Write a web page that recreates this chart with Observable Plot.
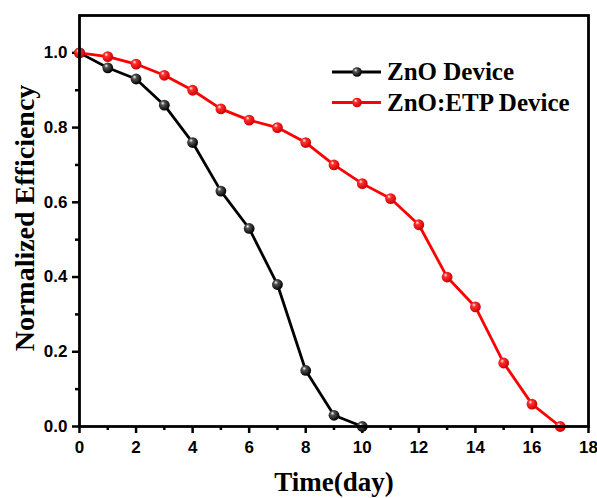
<!DOCTYPE html>
<html>
<head>
<meta charset="utf-8">
<script src="https://cdn.jsdelivr.net/npm/d3@7"></script>
<script src="https://cdn.jsdelivr.net/npm/@observablehq/plot@0.6"></script>
<style>
  html, body { margin: 0; padding: 0; background: #fff; }
  #chart svg { display: block; }
</style>
</head>
<body>
<div id="chart"></div>
<script>
// ---- data ----
const days = [0, 1, 2, 3, 4, 5, 6, 7, 8, 9, 10, 11, 12, 13, 14, 15, 16, 17];
const znoValues = [1.00, 0.96, 0.93, 0.86, 0.76, 0.63, 0.53, 0.38, 0.15, 0.03, 0.00];
const etpValues = [1.00, 0.99, 0.97, 0.94, 0.90, 0.85, 0.82, 0.80, 0.76, 0.70, 0.65, 0.61, 0.54, 0.40, 0.32, 0.17, 0.06, 0.00];
const seriesNames = ["ZnO Device", "ZnO:ETP Device"];
const seriesColors = ["#000000", "#ff0000"];
const xMajorTicks = [0, 2, 4, 6, 8, 10, 12, 14, 16, 18];
const xMinorTicks = [1, 3, 5, 7, 9, 11, 13, 15, 17];
const yMajorTicks = [0.0, 0.2, 0.4, 0.6, 0.8, 1.0];
const yMinorTicks = [0.1, 0.3, 0.5, 0.7, 0.9];
const xTitle = "Time(day)";
const yTitle = "Normalized Efficiency";

const zno = znoValues.map((v, i) => ({day: days[i], value: v}));
const etp = etpValues.map((v, i) => ({day: days[i], value: v}));

const tickFont = "'Liberation Sans', Arial, sans-serif";
const titleFont = "'Liberation Serif', 'Times New Roman', serif";

const plot = Plot.plot({
  width: 597,
  height: 498,
  marginLeft: 79,
  marginRight: 9,
  marginTop: 15,
  marginBottom: 72,
  style: {fontFamily: tickFont, background: "#fff", color: "#000"},
  x: {domain: [0, 18]},
  y: {domain: [0, 1.1]},
  marks: [
    Plot.axisX({ticks: xMinorTicks, tickSize: 4, tickFormat: () => "", strokeWidth: 2.5, label: null}),
    Plot.axisX({ticks: xMajorTicks, tickSize: 7, tickPadding: 7, fontSize: 17, fontWeight: "bold", strokeWidth: 2.5, label: null}),
    Plot.axisY({ticks: yMinorTicks, tickSize: 4, tickFormat: () => "", strokeWidth: 2.5, label: null}),
    Plot.axisY({ticks: yMajorTicks, tickSize: 7, tickPadding: 5, tickFormat: d3.format(".1f"), fontSize: 17, fontWeight: "bold", strokeWidth: 2.5, label: null}),
    Plot.line(zno, {x: "day", y: "value", stroke: seriesColors[0], strokeWidth: 2.8}),
    Plot.line(etp, {x: "day", y: "value", stroke: seriesColors[1], strokeWidth: 2.8}),
    Plot.dot(zno, {x: "day", y: "value", r: 5.4, fill: "url(#ballBlack)", stroke: "none"}),
    Plot.dot(etp, {x: "day", y: "value", r: 5.4, fill: "url(#ballRed)", stroke: "none"}),
    Plot.frame({stroke: "#000", strokeWidth: 2.8}),
    Plot.text([xTitle], {frameAnchor: "bottom", textAnchor: "middle", lineAnchor: "bottom", dy: 64, fontSize: 27, fontWeight: "bold", fontFamily: titleFont, fill: "#000"}),
    Plot.text([yTitle], {frameAnchor: "left", textAnchor: "middle", rotate: -90, lineAnchor: "bottom", dx: -46, dy: -3, fontSize: 28, fontWeight: "bold", fontFamily: titleFont, fill: "#000"})
  ]
});

// gradients for shaded ball markers
const svg = d3.select(plot);
const defs = svg.insert("defs", ":first-child");
function ball(id, base, dark) {
  const g = defs.append("radialGradient").attr("id", id)
    .attr("cx", "0.4").attr("cy", "0.4").attr("r", "0.6").attr("fx", "0.35").attr("fy", "0.3");
  g.append("stop").attr("offset", "0").attr("stop-color", "#ffffff");
  g.append("stop").attr("offset", "0.3").attr("stop-color", base);
  g.append("stop").attr("offset", "1").attr("stop-color", dark);
}
ball("ballBlack", "#555555", "#000000");
ball("ballRed", "#ff3030", "#d00000");

// legend
const legend = svg.append("g").attr("text-anchor", "start");
const legendY = [72, 102.5];
seriesNames.forEach((name, i) => {
  const y = legendY[i];
  legend.append("line").attr("x1", 332).attr("x2", 381).attr("y1", y).attr("y2", y)
    .attr("stroke", seriesColors[i]).attr("stroke-width", 2.8);
  legend.append("circle").attr("cx", 357).attr("cy", y).attr("r", 4.8)
    .attr("fill", i === 0 ? "url(#ballBlack)" : "url(#ballRed)");
  legend.append("text").attr("x", 387).attr("y", y + 8)
    .attr("text-anchor", "start")
    .attr("font-family", titleFont).attr("font-weight", "bold").attr("font-size", 25)
    .attr("fill", "#000").text(name);
});

document.getElementById("chart").appendChild(plot);
</script>
</body>
</html>
